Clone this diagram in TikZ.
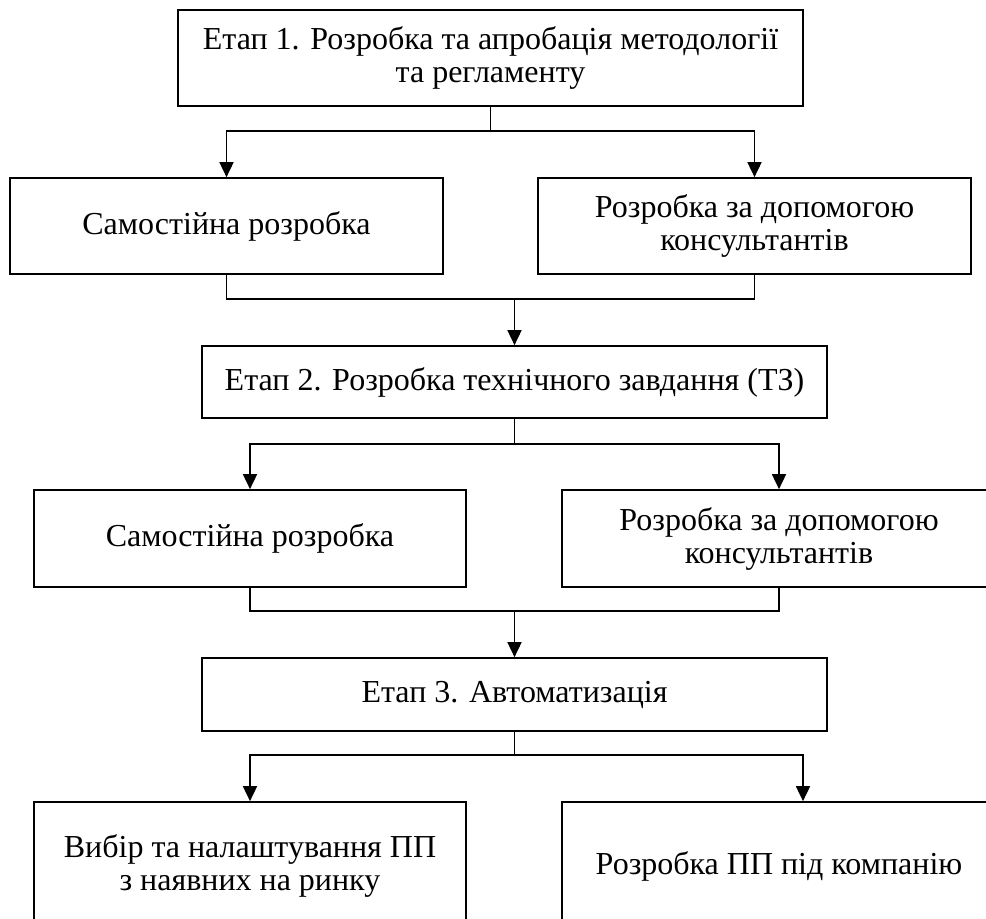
\documentclass[tikz,border=0pt]{standalone}
\usepackage{fontspec}
\setmainfont{Liberation Serif}
\usetikzlibrary{arrows.meta,calc}
\begin{document}
\begin{tikzpicture}[x=1pt,y=-1pt,
  box/.style={draw,line width=1.7pt,rectangle,inner sep=0pt,align=center,
    font=\fontsize{32}{33}\selectfont},
  conn/.style={line width=1.7pt},
  arr/.style={line width=1.7pt,-{Triangle[length=15pt,width=14pt]}}]
\useasboundingbox (0,0) rectangle (986,919);
\clip (0,0) rectangle (986,919);
\node[box,minimum width=625pt,minimum height=96pt] (b1) at (490.5,58) {Етап 1. Розробка та апробація методології\\та регламенту};
\node[box,minimum width=433pt,minimum height=96pt] (b2L) at (226.5,226) {Самостійна розробка};
\node[box,minimum width=433pt,minimum height=96pt] (b2R) at (754.5,226) {Розробка за допомогою\\консультантів};
\node[box,minimum width=625pt,minimum height=72pt] (b3) at (514.5,382) {Етап 2. Розробка технічного завдання (ТЗ)};
\node[box,minimum width=432pt,minimum height=97pt] (b4L) at (250,538.5) {Самостійна розробка};
\node[box,minimum width=434pt,minimum height=97pt] (b4R) at (779,538.5) {Розробка за допомогою\\консультантів};
\node[box,minimum width=625pt,minimum height=73pt] (b5) at (514.5,694.5) {Етап 3. Автоматизація};
\node[box,minimum width=432pt,minimum height=128pt] (b6L) at (250,866) {Вибір та налаштування ПП\\з наявних на ринку};
\node[box,minimum width=434pt,minimum height=128pt] (b6R) at (779,866) {Розробка ПП під компанію};
% stage 1 split
\coordinate (j1) at ($(b1.south)+(0,24)$);
\draw[conn] (b1.south) -- (j1);
\draw[arr] (j1) -| (b2L.north);
\draw[arr] (j1) -| (b2R.north);
% merge to stage 2
\coordinate (m1) at ($(b2L.south)+(0,24)$);
\draw[conn] (b2L.south) -- (m1) -| (b2R.south);
\draw[arr] (m1 -| b3.north) -- (b3.north);
% stage 2 split
\coordinate (j2) at ($(b3.south)+(0,25)$);
\draw[conn] (b3.south) -- (j2);
\draw[arr] (j2) -| (b4L.north);
\draw[arr] (j2) -| (b4R.north);
% merge to stage 3
\coordinate (m2) at ($(b4L.south)+(0,23)$);
\draw[conn] (b4L.south) -- (m2) -| (b4R.south);
\draw[arr] (m2 -| b5.north) -- (b5.north);
% stage 3 split
\coordinate (j3) at ($(b5.south)+(0,23)$);
\coordinate (t6R) at ($(b6R.north)+(24,0)$);
\draw[conn] (b5.south) -- (j3);
\draw[arr] (j3) -| (b6L.north);
\draw[arr] (j3) -| (t6R);
\end{tikzpicture}
\end{document}
